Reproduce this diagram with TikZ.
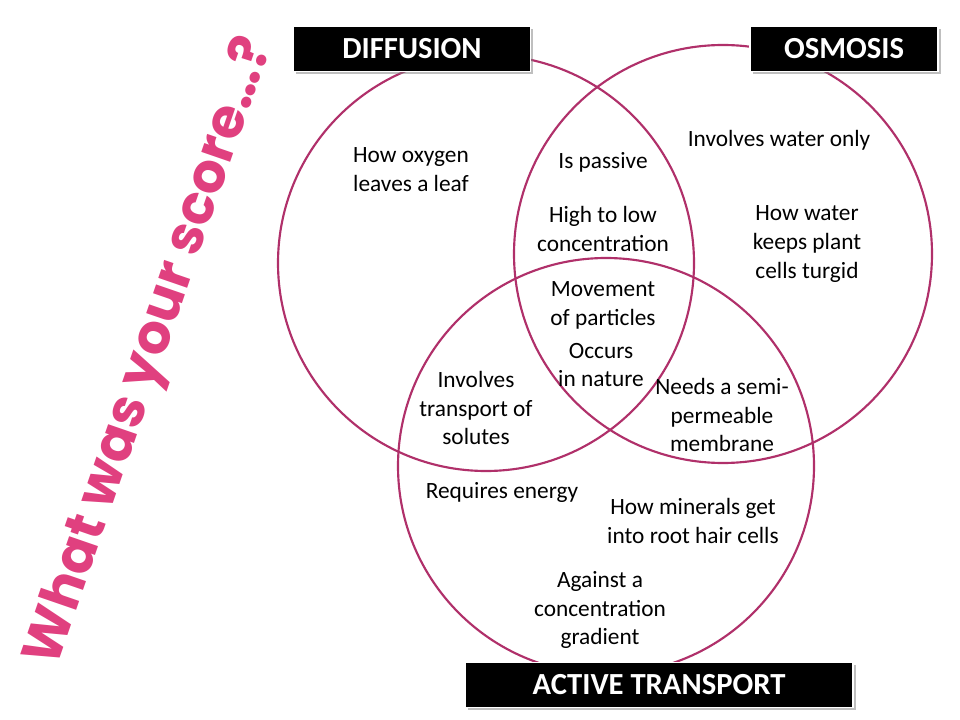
\documentclass[tikz,border=0pt]{standalone}
\usepackage{fontspec}
\setmainfont{Carlito}
\newfontfamily\scorefont{Poppins}
\usetikzlibrary{shadows}
\definecolor{ring}{HTML}{B0306A}
\definecolor{pinkt}{HTML}{E0407F}
\begin{document}
\begin{tikzpicture}[x=0.75pt,y=-0.75pt,
  ringc/.style={draw=ring,line width=1.6pt},
  lab/.style={fill=black,text=white,draw=white,line width=1.2pt,font=\fontsize{23}{28}\selectfont\bfseries,drop shadow={opacity=0.5,shadow xshift=2pt,shadow yshift=-2pt},inner sep=0pt,anchor=center},
  txt/.style={font=\fontsize{17.5}{21.7}\selectfont,align=center,text=black}]
\useasboundingbox (0,0) rectangle (960,720);
\fill[white] (0,0) rectangle (960,720);
\draw[ringc] (486,263) circle[radius=208];
\draw[ringc] (723,254) circle[radius=209];
\draw[ringc] (606,466) circle[radius=208];
\node[lab,minimum width=178pt,minimum height=34pt] (d) at (412,49) {DIFFUSION};
\node[lab,minimum width=141pt,minimum height=34pt] (o) at (844,49) {OSMOSIS};
\node[lab,minimum width=291pt,minimum height=34pt] (a) at (659,685) {ACTIVE TRANSPORT};
\node[txt] (t1) at (411,170) {How oxygen\\leaves a leaf};
\node[txt] (t2) at (603,162) {Is passive};
\node[txt] (t3) at (779,140) {Involves water only};
\node[txt] (t4) at (603,229) {High to low\\concentration};
\node[txt] (t5) at (807,244) {How water\\keeps plant\\cells turgid};
\node[txt] (t6) at (603,305) {Movement\\of particles};
\node[txt] (t7) at (601,365) {Occurs\\in nature};
\node[txt] (t8) at (476,408) {Involves\\transport of\\solutes};
\node[txt] (t9) at (722,415) {Needs a semi-\\permeable\\membrane};
\node[txt] (t10) at (502,492) {Requires energy};
\node[txt] (t11) at (693,521) {How minerals get\\into root hair cells};
\node[txt] (t12) at (600,610) {Against a\\concentration\\gradient};
\node[rotate=71,text=pinkt,font=\scorefont\fontsize{41}{41}\selectfont\bfseries] (s) at (152,352) {What was your score…?};
\end{tikzpicture}
\end{document}
